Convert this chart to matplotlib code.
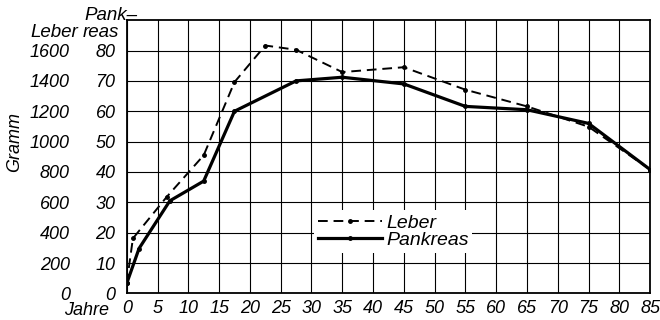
import matplotlib.pyplot as plt
import numpy as np

plt.rcParams['font.family'] = ['Liberation Sans', 'DejaVu Sans']
plt.rcParams['font.style'] = 'italic'
plt.rcParams['font.size'] = 13

# Organgewichte nach Lebensalter
leber_jahre = [0, 1, 6.5, 12.5, 17.5, 22.5, 27.5, 35, 45, 55, 65, 75, 85]
leber_gramm = [66, 362, 636, 910, 1392, 1633, 1605, 1458, 1490, 1342, 1232, 1098, 816]

pankreas_jahre = [0, 2, 7, 12.5, 17.5, 27.5, 35, 45, 55, 65, 75, 85]
pankreas_gramm = [3.3, 14.8, 30.5, 37, 60, 70, 71.2, 69, 61.6, 60.5, 56, 40.8]

x_ticks = list(range(0, 90, 5))
leber_ticks = list(range(0, 1800, 200))
pankreas_ticks = list(range(0, 90, 10))
faktor = 20  # 1 g Pankreas entspricht 20 g Leber auf der Skala

fig = plt.figure(figsize=(6.6, 3.2), dpi=100)
ax = fig.add_axes([0.192, 0.083, 0.793, 0.854])

ax.plot(leber_jahre, leber_gramm, color='black', lw=1.4, dashes=(5, 3),
        marker='o', ms=2.5, label='Leber', zorder=3)
ax.plot(pankreas_jahre, np.array(pankreas_gramm) * faktor, color='black',
        lw=2.3, marker='o', ms=2.5, label='Pankreas', zorder=3)

ax.set_xlim(0, 85)
ax.set_ylim(0, 1800)
ax.set_xticks(x_ticks)
ax.set_yticks(leber_ticks)
ax.tick_params(length=0, labelsize=13)
ax.tick_params(axis='y', pad=41)
ax.tick_params(axis='x', pad=5)
ax.grid(True, color='black', lw=0.8)
ax.set_axisbelow(True)
for sp in ax.spines.values():
    sp.set_linewidth(1.3)

# zweite Skala fuer das Pankreas
sec = ax.secondary_yaxis('left', functions=(lambda v: v / faktor, lambda v: v * faktor))
sec.set_yticks(pankreas_ticks)
sec.tick_params(length=0, labelsize=13, pad=8)
sec.spines['left'].set_visible(False)

for lbl in ax.get_xticklabels() + ax.get_yticklabels() + sec.get_yticklabels():
    lbl.set_fontstyle('italic')

ax.annotate('Jahre', xy=(0, 0), xycoords=ax.get_xaxis_transform(),
            xytext=(-13, -12.5), textcoords='offset points',
            ha='right', va='center', fontsize=13, fontstyle='italic')

fig.text(0.022, 0.555, 'Gramm', rotation=90, ha='center', va='center',
         fontsize=13, fontstyle='italic')
fig.text(0.119, 0.897, 'Leber', ha='right', va='center', fontsize=13.5, fontstyle='italic')
fig.text(0.126, 0.897, 'reas', ha='left', va='center', fontsize=13.5, fontstyle='italic')
fig.text(0.128, 0.95, 'Pank–', ha='left', va='center', fontsize=13.5, fontstyle='italic')

leg = ax.legend(loc='upper left', bbox_to_anchor=(0.358, 0.305), frameon=True,
                fancybox=False, edgecolor='none', facecolor='white', framealpha=1,
                handlelength=3.3, handletextpad=0.2, labelspacing=0.0,
                borderpad=0.2, borderaxespad=0, prop={'size': 14, 'style': 'italic'})

fig.savefig('out.png', dpi=100)
